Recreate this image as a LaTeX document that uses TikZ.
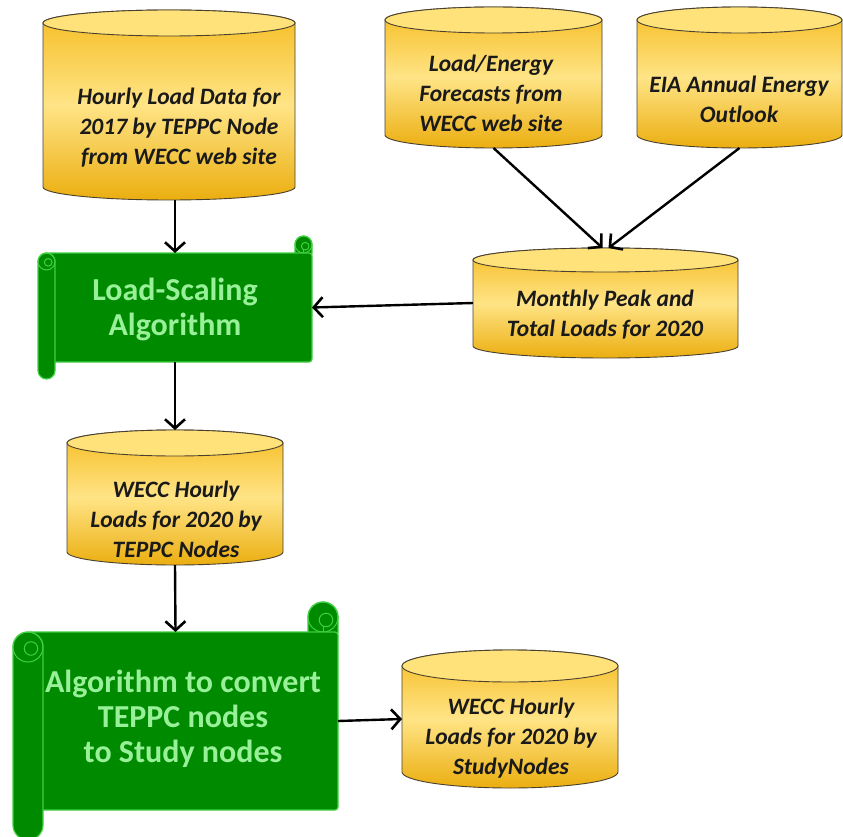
\documentclass[tikz,border=0pt]{standalone}
\usepackage{fontspec}
\setmainfont{Carlito}
\usetikzlibrary{arrows.meta,fit}
\definecolor{scrfill}{HTML}{008A00}
\definecolor{scrline}{HTML}{40D040}
\definecolor{scrtext}{HTML}{98F098}
\definecolor{cyltopc}{HTML}{FFE37A}
\definecolor{cylA}{HTML}{F5BC20}
\definecolor{cylB}{HTML}{FFE486}
\definecolor{cylC}{HTML}{EBAE10}
\definecolor{cylline}{HTML}{4A4030}
\definecolor{txtdark}{HTML}{1A1A1A}
\tikzset{
  cylbody/.style={draw=cylline, line width=0.9pt, top color=cylA, bottom color=cylC, middle color=cylB},
  cyltop/.style={draw=cylline, line width=0.9pt, fill=cyltopc},
  cyltext/.style={align=center, text=txtdark, font=\fontsize{23.5}{30}\selectfont\bfseries\itshape, inner sep=0pt},
  scr/.style={fill=scrfill, draw=scrline, line width=1.2pt},
  scrcurl/.style={draw=scrline, line width=1pt},
  scrtextstyle/.style={align=center, text=scrtext, font=\fontsize{32}{35}\selectfont\bfseries, inner sep=0pt},
  bounds/.style={inner sep=0pt, outer sep=0pt},
  flow/.style={line width=2.4pt, black, -{Straight Barb[length=9pt,width=20pt,line width=2.6pt]}},
}
% #1 name, #2 x1, #3 x2, #4 top, #5 bottom, #6 ry, #7 text pos (x,y), #8 text
\newcommand\cyldb[8]{%
  \pgfmathsetmacro\cxa{#2}\pgfmathsetmacro\cxb{#3}%
  \pgfmathsetmacro\crx{(#3-#2)/2}\pgfmathsetmacro\ccx{(#2+#3)/2}%
  \pgfmathsetmacro\ctc{-#4-#6}\pgfmathsetmacro\cbc{-#5+#6}%
  \path[cylbody] (\cxa,\ctc) -- (\cxa,\cbc)
     arc[start angle=180,end angle=360,x radius=\crx,y radius=#6]
     -- (\cxb,\ctc)
     arc[start angle=0,end angle=180,x radius=\crx,y radius=#6] -- cycle;
  \path[cyltop] (\ccx,\ctc) ellipse[x radius=\crx,y radius=#6];
  \node[bounds, fit={(#2,-#4) (#3,-#5)}] (#1) {};
  \node[cyltext] (#1-t) at #7 {#8};
}
% #1 name, #2 L, #3 R, #4 top, #5 bottom, #6 roll width, #7 text pos (x,y), #8 text
\newcommand\scrolldb[8]{%
  \pgfmathsetmacro\sL{#2}\pgfmathsetmacro\sR{#3}%
  \pgfmathsetmacro\sT{-#4}\pgfmathsetmacro\sB{-#5}%
  \pgfmathsetmacro\sw{#6}\pgfmathsetmacro\shw{#6/2}%
  % right roll
  \path[scr, rounded corners=\shw pt] ({\sR-\sw},{\sT-\shw}) rectangle (\sR,{\sT+\sw});
  \path[scrcurl] ({\sR-\shw},{\sT+\shw}) circle[radius=\shw];
  \path[scrcurl] ({\sR-\shw*0.8},{\sT+\shw*0.8}) circle[radius=\shw*0.45];
  % body
  \path[scr, rounded corners=3pt] ({\sL+\shw},\sT) rectangle (\sR,\sB);
  \path[scrcurl] ({\sR-\shw},\sT) -- ({\sR-\shw},{\sT+\shw*0.4});
  % left roll
  \path[scr, rounded corners=\shw pt] (\sL,\sT) rectangle ({\sL+\sw},{\sB-\sw});
  \path[scrcurl] ({\sL+\shw},{\sT-\shw}) circle[radius=\shw];
  \path[scrcurl] ({\sL+\shw*1.2},{\sT-\shw*1.1}) circle[radius=\shw*0.45];
  \node[bounds, fit={(#2,-#4) (#3,-#5)}] (#1) {};
  \node[scrtextstyle] (#1-t) at #7 {#8};
}
\begin{document}
\begin{tikzpicture}[x=1pt,y=1pt]
\useasboundingbox (0,0) rectangle (843,-837);
\fill[white] (0,0) rectangle (843,-837);

\cyldb{c1}{43}{295}{10}{200}{13}{(179,-128)}{Hourly Load Data for\\2017 by TEPPC Node\\from WECC web site}
\cyldb{c2}{385}{602}{7}{148}{13}{(491,-93)}{Load/Energy\\Forecasts from\\WECC web site}
\cyldb{c3}{637}{842}{7}{148}{13}{(739,-99)}{EIA Annual Energy\\Outlook}
\cyldb{c4}{473}{738}{248}{358}{12}{(605,-315)}{Monthly Peak and\\Total Loads for 2020}
\cyldb{c5}{67}{283}{430}{565}{13}{(176,-519)}{WECC Hourly\\Loads for 2020 by\\TEPPC Nodes}
\cyldb{c6}{402}{618}{650}{788}{16}{(511,-738)}{WECC Hourly\\Loads for 2020 by\\StudyNodes}

\scrolldb{s1}{38}{312}{253}{362}{17}{(175,-309.5)}{Load-Scaling\\Algorithm}
\scrolldb{s2}{13}{338}{632}{810}{30}{(183,-719)}{Algorithm to convert\\TEPPC nodes\\to Study nodes}

\draw[flow] (c1.south -| s1.north) -- (s1.north);
\draw[flow] (c2.south) -- ([xshift=-3pt]c4.north);
\draw[flow] (c3.south) -- ([xshift=3pt]c4.north);
\draw[flow] (c4.west) -- (s1.east);
\draw[flow] (s1.south) -- (c5.north);
\draw[flow] (c5.south) -- (s2.north);
\draw[flow] (s2.east) -- (c6.west);
\end{tikzpicture}
\end{document}
